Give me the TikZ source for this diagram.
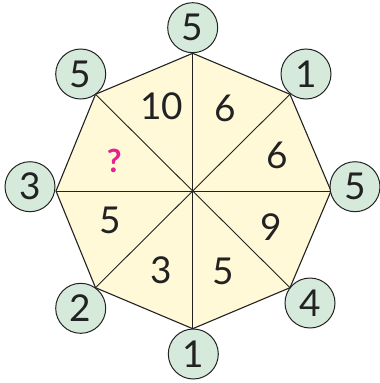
\documentclass[tikz,border=0pt]{standalone}
\usepackage{fontspec}
\setmainfont{Lato}
\definecolor{oct}{HTML}{FFF9D8}
\definecolor{circ}{HTML}{D6EADC}
\definecolor{ink}{HTML}{222222}
\definecolor{qmark}{HTML}{E8208F}
\tikzset{
  num/.style={font=\fontsize{37}{37}\selectfont, text=ink, inner sep=0pt},
  vcirc/.style={circle, draw=ink, line width=1pt, fill=circ, minimum size=50pt, inner sep=0pt, font=\fontsize{37}{37}\selectfont, text=ink},
  edge/.style={draw=ink, line width=1.1pt, line join=round}
}
\begin{document}
\begin{tikzpicture}[x=1pt,y=-1pt]
\useasboundingbox (0,0) rectangle (380,383);
\coordinate (c) at (192.7,191);
\coordinate (v1) at (192.7,53.3);
\coordinate (v2) at (290,94.3);
\coordinate (v3) at (331,191);
\coordinate (v4) at (290,287.7);
\coordinate (v5) at (192.7,328.7);
\coordinate (v6) at (95.5,287.7);
\coordinate (v7) at (56,191);
\coordinate (v8) at (95.5,94.3);
\fill[oct] (v1) -- (v2) -- (v3) -- (v4) -- (v5) -- (v6) -- (v7) -- (v8) -- cycle;
\foreach \i in {1,...,8} { \draw[ink, line width=0.9pt] (c) -- (v\i); }
\draw[edge] (v1) -- (v2) -- (v3) -- (v4) -- (v5) -- (v6) -- (v7) -- (v8) -- cycle;
\node[vcirc] (n1) at (192.7,27.7) {5};
\node[vcirc] (n2) at (306,74) {1};
\node[vcirc] (n3) at (355,186.7) {5};
\node[vcirc] (n4) at (310,303) {4};
\node[vcirc] (n5) at (193.3,354) {1};
\node[vcirc] (n6) at (80.7,308.3) {2};
\node[vcirc] (n7) at (30,186.7) {3};
\node[vcirc] (n8) at (80.7,74) {5};
\node[num] (s1) at (161.7,106.7) {10};
\node[num] (s2) at (225,108.3) {6};
\node[num] (s3) at (277.3,155) {6};
\node[num] (s4) at (271.7,226.7) {9};
\node[num] (s5) at (223.3,271.7) {5};
\node[num] (s6) at (161,270) {3};
\node[num] (s7) at (110,220.7) {5};
\node[num, font=\fontsize{32}{32}\selectfont\bfseries, text=qmark] (s8) at (114.3,160.7) {?};
\end{tikzpicture}
\end{document}
